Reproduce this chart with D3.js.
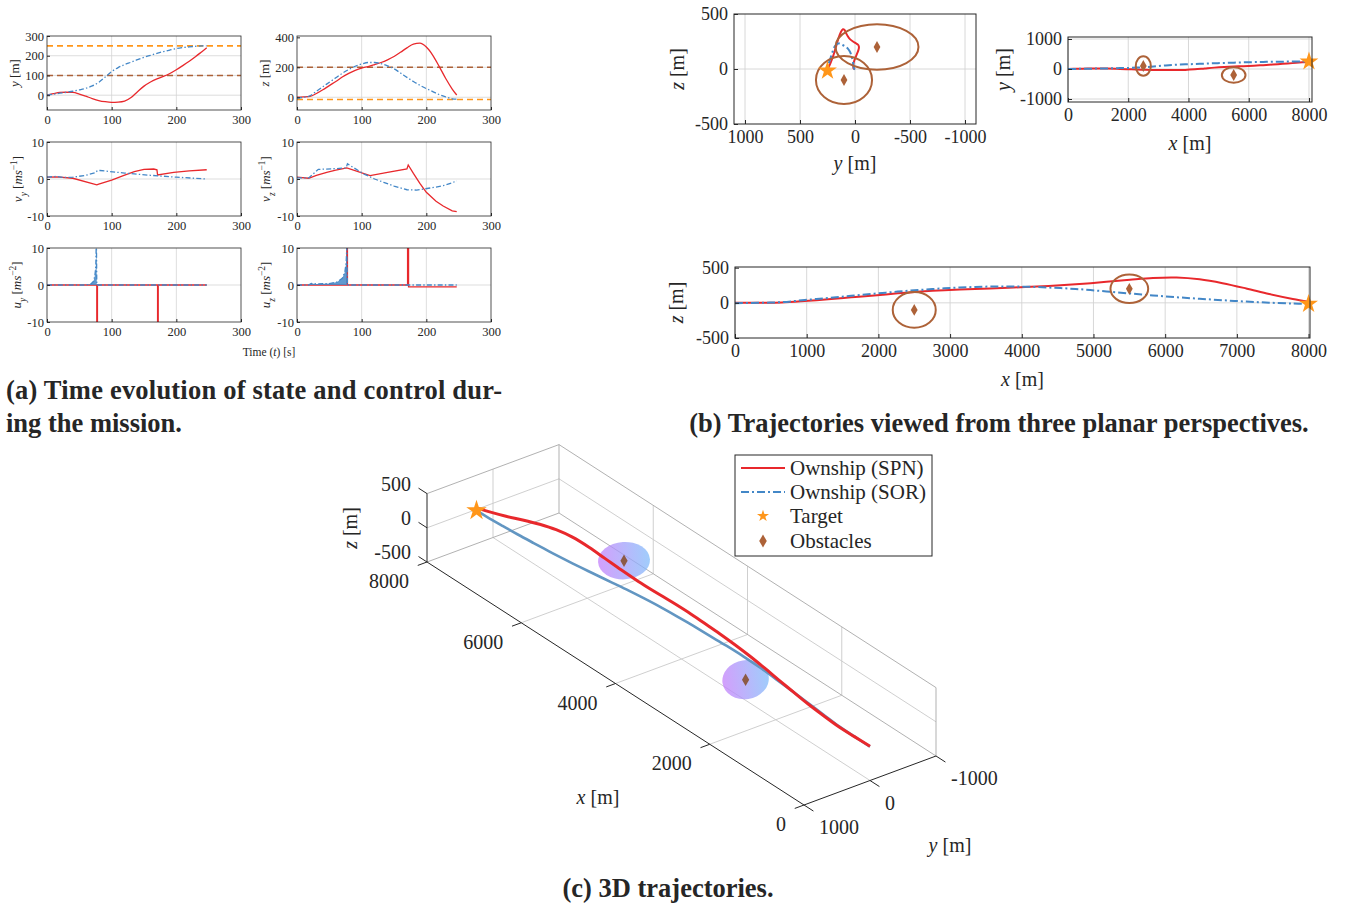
<!DOCTYPE html>
<html>
<head>
<meta charset="utf-8">
<script src="https://cdn.jsdelivr.net/npm/d3@7"></script>
<style>
  body { margin: 0; background: #fff; }
  text { font-family: "Liberation Serif", "Times New Roman", serif; fill: #262626; }
</style>
</head>
<body>
<svg id="fig" width="1354" height="905"></svg>
<script>
// ---------- data ----------
const time = [0, 10, 20, 30, 40, 50, 60, 70, 80, 90, 100, 110, 120, 130, 140, 150, 160, 170, 180, 190, 200, 210, 220, 230, 240, 247];
const posX = [0, 320, 650, 970, 1300, 1620, 1940, 2270, 2590, 2920, 3240, 3560, 3890, 4210, 4540, 4860, 5180, 5510, 5830, 6160, 6480, 6800, 7130, 7450, 7780, 8000];
const ySPN = [0, 8, 14, 15, 14, 6, -5, -17, -27, -33, -36, -35, -30, -12, 18, 46, 67, 83, 95, 110, 129, 150, 172, 196, 222, 240];
const zSPN = [0, 2, 6, 25, 50, 78, 105, 135, 160, 180, 195, 205, 218, 232, 250, 272, 300, 330, 355, 361, 335, 280, 205, 125, 55, 15];
const ySOR = [0, 5, 10, 15, 20, 27, 35, 47, 65, 92, 120, 140, 155, 167, 180, 192, 202, 212, 221, 229, 236, 241, 245, 248, 250, 250];
const zSOR = [-5, 0, 10, 40, 70, 100, 130, 160, 185, 207, 222, 232, 232, 225, 210, 190, 162, 133, 105, 80, 58, 38, 18, 3, -10, -13];

// velocities [t, v]
const vySPN = [[0, 0.5], [15, 0.6], [40, 0.2], [77, -1.6], [80, -1.4], [100, -0.3], [118, 0.9], [135, 2.0], [150, 2.6], [165, 2.7], [170, 2.5], [171, 1.1], [196, 1.8], [220, 2.2], [247, 2.5]];
const vySOR = [[0, 0.5], [15, 0.7], [25, 0.4], [40, 0.5], [60, 1.0], [75, 1.7], [78, 2.3], [82, 2.3], [120, 1.6], [160, 1.0], [200, 0.5], [247, 0.0]];
const vzSPN = [[0, 0.5], [18, 0.2], [30, 1.0], [46, 1.8], [60, 2.4], [77, 3.0], [113, 0.9], [140, 1.8], [170, 2.7], [172, 3.8], [180, 1.5], [190, -1.2], [200, -3.6], [215, -6.0], [226, -7.3], [240, -8.6], [247, -8.8]];
const vzSOR = [[0, 0.3], [18, 0.3], [33, 2.6], [60, 2.8], [76, 3.0], [78, 4.1], [90, 2.8], [103, 1.4], [120, 0], [134, -0.9], [150, -1.9], [170, -2.9], [185, -3.0], [196, -2.7], [215, -2.2], [226, -1.8], [240, -1.0], [247, -0.5]];

// controls [t, u]
const uySPN = [[0, 0], [77, 0], [77, -10], [78, -10], [78, 0], [171, 0], [171, -10], [172, -10], [172, 0], [247, 0]];
const uySOR = [[0, 0], [60, 0], [68, 0.3], [72, 1], [74, 2.5], [75.5, 5], [76, 10], [76.5, 10], [77, 0], [247, 0]];
const uzSPN = [[0, 0], [77, 0], [77, 10], [78, 10], [78, 0], [171, 0], [171, 10], [172.5, 10], [172.5, -0.5], [247, -0.5]];
const uzSOR = [[0, 0], [18, 0], [22, 0.4], [30, 0.3], [50, 0.4], [62, 0.8], [70, 1.8], [74, 3.5], [76, 6], [77, 10], [78, 0], [247, 0]];

const target = {x: 8000, y: 250, z: -15};
const obstacles = [{x: 2500, y: 100, z: -100}, {x: 5500, y: -200, z: 200}];
// apparent obstacle radii in each view
const radiiYZ = [[255, 218], [377, 206]];
const radiiXY = [[250, 322], [393, 261]];
const radiiXZ = [[300, 254], [263, 202]];
const radii3D = [[280, 290, 235], [320, 320, 205]];

const timeTicks = [0, 100, 200, 300];
const legendNames = ["Ownship (SPN)", "Ownship (SOR)", "Target", "Obstacles"];

// ---------- style ----------
const RED = "#e8282c", BLUE = "#4387c7", BLUE3D = "#6296c2", ORANGE = "#ff961a", BROWN = "#ad6238";
const GRID = "#d4d4d4", INK = "#262626";
const DASHDOT_S = "5,2.2,1.4,2.2", DASHDOT_L = "8,3,2,3";

const svg = d3.select("#fig");
const spn = time.map((t, i) => ({t, x: posX[i], y: ySPN[i], z: zSPN[i]}));
const sor = time.map((t, i) => ({t, x: posX[i], y: ySOR[i], z: zSOR[i]}));

let clipId = 0;
function addClip(box) {
  const id = "clip" + (clipId++);
  svg.append("clipPath").attr("id", id).append("rect")
    .attr("x", box.x).attr("y", box.y).attr("width", box.w).attr("height", box.h);
  return `url(#${id})`;
}

function styleAxis(a, size) {
  a.select(".domain").remove();
  a.attr("font-family", null).attr("font-size", null);
  a.selectAll("text").attr("font-size", size).attr("fill", INK)
    .style("font-family", "'Liberation Serif', serif");
  a.selectAll("line").attr("stroke", INK);
}

// label made of parts {t, i: italic, sub, sup}
function richText(sel, parts, size) {
  parts.forEach(p => {
    const ts = sel.append("tspan").text(p.t);
    if (p.i) ts.attr("font-style", "italic");
    if (p.sub) ts.attr("baseline-shift", "sub").attr("font-size", size * 0.72);
    if (p.sup) ts.attr("baseline-shift", "super").attr("font-size", size * 0.72);
  });
  return sel;
}

function yLabel(cx, cy, parts, size) {
  const t = svg.append("text")
    .attr("transform", `translate(${cx},${cy}) rotate(-90)`)
    .attr("text-anchor", "middle").attr("dy", "0.35em")
    .attr("font-size", size);
  richText(t, parts, size);
}

// ---------- panel (a): time histories ----------
function timePlot(box, yDomain, yTicks, yGrid, series, refs, label, labelX) {
  const g = svg.append("g");
  const x = d3.scaleLinear().domain([0, 300]).range([box.x, box.x + box.w]);
  const y = d3.scaleLinear().domain(yDomain).range([box.y + box.h, box.y]);
  const clip = addClip(box);

  g.selectAll(".gx").data([100, 200]).join("line")
    .attr("x1", d => x(d)).attr("x2", d => x(d)).attr("y1", box.y).attr("y2", box.y + box.h)
    .attr("stroke", GRID).attr("stroke-width", 0.8);
  g.selectAll(".gy").data(yGrid).join("line")
    .attr("x1", box.x).attr("x2", box.x + box.w).attr("y1", d => y(d)).attr("y2", d => y(d))
    .attr("stroke", GRID).attr("stroke-width", 0.8);

  g.selectAll(".ref").data(refs).join("line")
    .attr("x1", box.x).attr("x2", box.x + box.w)
    .attr("y1", d => y(d.v)).attr("y2", d => y(d.v))
    .attr("stroke", d => d.c).attr("stroke-width", 1.6).attr("stroke-dasharray", "6,4");

  const pl = g.append("g").attr("clip-path", clip);
  series.forEach(s => {
    if (s.fill) {
      pl.append("path").datum(s.data)
        .attr("d", d3.area().x(d => x(d[0])).y0(y(0)).y1(d => y(d[1])))
        .attr("fill", s.c).attr("opacity", 0.85);
    }
    pl.append("path").datum(s.data)
      .attr("d", d3.line().x(d => x(d[0])).y(d => y(d[1])).curve(s.curve || d3.curveLinear))
      .attr("fill", "none").attr("stroke", s.c).attr("stroke-width", 1.3)
      .attr("stroke-dasharray", s.dash || null);
  });

  g.append("rect").attr("x", box.x).attr("y", box.y).attr("width", box.w).attr("height", box.h)
    .attr("fill", "none").attr("stroke", INK).attr("stroke-width", 0.8);

  g.append("g").attr("transform", `translate(0,${box.y + box.h})`)
    .call(d3.axisBottom(x).tickValues(timeTicks).tickSize(-3).tickPadding(5).tickFormat(d => String(d)))
    .call(a => styleAxis(a, 12.5));
  g.append("g").attr("transform", `translate(${box.x},0)`)
    .call(d3.axisLeft(y).tickValues(yTicks).tickSize(-3).tickPadding(3).tickFormat(d => String(d)))
    .call(a => styleAxis(a, 12.5));

  yLabel(labelX, box.y + box.h / 2, label, 13);
}

const colX = [47, 297], rowY = [36, 142, 248];
const BW = 194, BH = 74;

timePlot({x: colX[0], y: rowY[0], w: BW, h: BH}, [-75, 300], [0, 100, 200, 300], [0, 100, 200],
  [{data: spn.map(d => [d.t, d.y]), c: RED, curve: d3.curveMonotoneX},
   {data: sor.map(d => [d.t, d.y]), c: BLUE, dash: DASHDOT_S, curve: d3.curveMonotoneX}],
  [{v: target.y, c: ORANGE}, {v: obstacles[0].y, c: BROWN}],
  [{t: "y", i: 1}, {t: " [m]"}], 14);
timePlot({x: colX[1], y: rowY[0], w: BW, h: BH}, [-85, 409], [0, 200, 400], [0, 200],
  [{data: spn.map(d => [d.t, d.z]), c: RED, curve: d3.curveMonotoneX},
   {data: sor.map(d => [d.t, d.z]), c: BLUE, dash: DASHDOT_S, curve: d3.curveMonotoneX}],
  [{v: target.z, c: ORANGE}, {v: obstacles[1].z, c: BROWN}],
  [{t: "z", i: 1}, {t: " [m]"}], 264);
timePlot({x: colX[0], y: rowY[1], w: BW, h: BH}, [-10, 10], [-10, 0, 10], [0],
  [{data: vySPN, c: RED}, {data: vySOR, c: BLUE, dash: DASHDOT_S}], [],
  [{t: "v", i: 1}, {t: "y", i: 1, sub: 1}, {t: " ["}, {t: "ms", i: 1}, {t: "−1", sup: 1}, {t: "]"}], 17);
timePlot({x: colX[1], y: rowY[1], w: BW, h: BH}, [-10, 10], [-10, 0, 10], [0],
  [{data: vzSPN, c: RED}, {data: vzSOR, c: BLUE, dash: DASHDOT_S}], [],
  [{t: "v", i: 1}, {t: "z", i: 1, sub: 1}, {t: " ["}, {t: "ms", i: 1}, {t: "−1", sup: 1}, {t: "]"}], 265);
timePlot({x: colX[0], y: rowY[2], w: BW, h: BH}, [-10, 10], [-10, 0, 10], [0],
  [{data: uySPN, c: RED}, {data: uySOR, c: BLUE, dash: DASHDOT_S, fill: true}], [],
  [{t: "u", i: 1}, {t: "y", i: 1, sub: 1}, {t: " ["}, {t: "ms", i: 1}, {t: "−2", sup: 1}, {t: "]"}], 16);
timePlot({x: colX[1], y: rowY[2], w: BW, h: BH}, [-10, 10], [-10, 0, 10], [0],
  [{data: uzSPN, c: RED}, {data: uzSOR, c: BLUE, dash: DASHDOT_S, fill: true}], [],
  [{t: "u", i: 1}, {t: "z", i: 1, sub: 1}, {t: " ["}, {t: "ms", i: 1}, {t: "−2", sup: 1}, {t: "]"}], 265);

richText(svg.append("text").attr("x", 269).attr("y", 356).attr("text-anchor", "middle").attr("font-size", 11.5),
  [{t: "Time ("}, {t: "t", i: 1}, {t: ") [s]"}], 11.5);

// ---------- panel (b): planar views ----------
function star(size) { return d3.symbol().type(d3.symbolStar).size(size)(); }
function diamond(size) { return d3.symbol().type(d3.symbolDiamond).size(size)(); }

function planar(o) {
  const {box} = o;
  const g = svg.append("g");
  const x = d3.scaleLinear().domain(o.xDom).range([box.x, box.x + box.w]);
  const y = d3.scaleLinear().domain(o.yDom).range([box.y + box.h, box.y]);
  const clip = addClip(box);

  g.selectAll(".gx").data(o.xTicks).join("line")
    .attr("x1", d => x(d)).attr("x2", d => x(d)).attr("y1", box.y).attr("y2", box.y + box.h)
    .attr("stroke", GRID).attr("stroke-width", 0.9);
  g.selectAll(".gy").data(o.yGrid).join("line")
    .attr("x1", box.x).attr("x2", box.x + box.w).attr("y1", d => y(d)).attr("y2", d => y(d))
    .attr("stroke", GRID).attr("stroke-width", 0.9);

  const pl = g.append("g").attr("clip-path", clip);
  const line = d3.line().x(d => x(d[o.xk])).y(d => y(d[o.yk])).curve(d3.curveCatmullRom);
  pl.append("path").datum(spn).attr("d", line).attr("fill", "none").attr("stroke", RED).attr("stroke-width", 2);
  pl.append("path").datum(sor).attr("d", line).attr("fill", "none").attr("stroke", BLUE)
    .attr("stroke-width", 2).attr("stroke-dasharray", DASHDOT_L);

  pl.selectAll(".obs").data(obstacles).join("ellipse")
    .attr("cx", d => x(d[o.xk])).attr("cy", d => y(d[o.yk]))
    .attr("rx", (d, i) => Math.abs(x(d[o.xk] + o.radii[i][0]) - x(d[o.xk])))
    .attr("ry", (d, i) => Math.abs(y(d[o.yk] + o.radii[i][1]) - y(d[o.yk])))
    .attr("fill", "none").attr("stroke", BROWN).attr("stroke-width", 2);
  pl.selectAll(".dia").data(obstacles).join("path")
    .attr("d", diamond(40)).attr("transform", d => `translate(${x(d[o.xk])},${y(d[o.yk])})`)
    .attr("fill", BROWN);
  g.append("path").attr("d", star(110))
    .attr("transform", `translate(${x(target[o.xk])},${y(target[o.yk])})`).attr("fill", ORANGE);

  g.append("rect").attr("x", box.x).attr("y", box.y).attr("width", box.w).attr("height", box.h)
    .attr("fill", "none").attr("stroke", INK).attr("stroke-width", 1);

  g.append("g").attr("transform", `translate(0,${box.y + box.h})`)
    .call(d3.axisBottom(x).tickValues(o.xTicks).tickSize(-4).tickPadding(6).tickFormat(d => String(d)))
    .call(a => styleAxis(a, 18));
  g.append("g").attr("transform", `translate(${box.x},0)`)
    .call(d3.axisLeft(y).tickValues(o.yTicks).tickSize(-4).tickPadding(6).tickFormat(d => String(d)))
    .call(a => styleAxis(a, 18));

  richText(svg.append("text").attr("x", box.x + box.w / 2).attr("y", o.xLabY).attr("text-anchor", "middle").attr("font-size", 20),
    [{t: o.xk, i: 1}, {t: " [m]"}], 20);
  yLabel(o.yLabX, box.y + box.h / 2, [{t: o.yk, i: 1}, {t: " [m]"}], 20);
}

planar({box: {x: 734, y: 14, w: 242, h: 110}, xDom: [1100, -1100], yDom: [-500, 500],
  xTicks: [1000, 500, 0, -500, -1000], yTicks: [-500, 0, 500], yGrid: [0],
  xk: "y", yk: "z", radii: radiiYZ, xLabY: 170, yLabX: 677});
planar({box: {x: 1068, y: 37, w: 244, h: 65}, xDom: [0, 8100], yDom: [-1100, 1067],
  xTicks: [0, 2000, 4000, 6000, 8000], yTicks: [-1000, 0, 1000], yGrid: [-1000, 0, 1000],
  xk: "x", yk: "y", radii: radiiXY, xLabY: 150, yLabX: 1003});
planar({box: {x: 735, y: 267, w: 575, h: 71}, xDom: [0, 8020], yDom: [-500, 510],
  xTicks: [0, 1000, 2000, 3000, 4000, 5000, 6000, 7000, 8000], yTicks: [-500, 0, 500], yGrid: [0],
  xk: "x", yk: "z", radii: radiiXZ, xLabY: 386, yLabX: 676});

// ---------- panel (c): 3D view ----------
const O3 = [804, 805];
const px = d3.scaleLinear().domain([0, 8000]).range([[0, 0], [-377, -243]]);
const py = d3.scaleLinear().domain([1000, -1000]).range([[0, 0], [132, -49]]);
const pz = d3.scaleLinear().domain([-500, 500]).range([[0, 0], [0, -68.4]]);
function proj(p) {
  const a = px(p.x).slice(), b = py(p.y).slice(), c = pz(p.z).slice();
  return [O3[0] + a[0] + b[0] + c[0], O3[1] + a[1] + b[1] + c[1]];
}
const g3 = svg.append("g");
function seg(p, q, color, w) {
  const A = proj(p), B = proj(q);
  g3.append("line").attr("x1", A[0]).attr("y1", A[1]).attr("x2", B[0]).attr("y2", B[1])
    .attr("stroke", color).attr("stroke-width", w);
}
const xT3 = [0, 2000, 4000, 6000, 8000], yT3 = [1000, 0, -1000], zT3 = [-500, 0, 500];
const G3 = "#c9c9c9";
// floor grid (z = -500)
[2000, 4000, 6000].forEach(v => seg({x: v, y: 1000, z: -500}, {x: v, y: -1000, z: -500}, G3, 0.9));
seg({x: 0, y: 0, z: -500}, {x: 8000, y: 0, z: -500}, G3, 0.9);
// back wall (y = -1000)
[2000, 4000, 6000].forEach(v => seg({x: v, y: -1000, z: -500}, {x: v, y: -1000, z: 500}, G3, 0.9));
seg({x: 0, y: -1000, z: 0}, {x: 8000, y: -1000, z: 0}, G3, 0.9);
// side wall (x = 8000)
seg({x: 8000, y: 0, z: -500}, {x: 8000, y: 0, z: 500}, G3, 0.9);
seg({x: 8000, y: 1000, z: 0}, {x: 8000, y: -1000, z: 0}, G3, 0.9);
// box back edges
const E3 = "#a8a8a8";
seg({x: 8000, y: 1000, z: -500}, {x: 8000, y: -1000, z: -500}, E3, 0.9);
seg({x: 0, y: -1000, z: -500}, {x: 8000, y: -1000, z: -500}, E3, 0.9);
seg({x: 8000, y: -1000, z: -500}, {x: 8000, y: -1000, z: 500}, E3, 0.9);
seg({x: 8000, y: 1000, z: 500}, {x: 8000, y: -1000, z: 500}, E3, 0.9);
seg({x: 0, y: -1000, z: 500}, {x: 8000, y: -1000, z: 500}, E3, 0.9);
seg({x: 0, y: -1000, z: -500}, {x: 0, y: -1000, z: 500}, E3, 0.9);
// axes
seg({x: 0, y: 1000, z: -500}, {x: 8000, y: 1000, z: -500}, INK, 1);
seg({x: 0, y: 1000, z: -500}, {x: 0, y: -1000, z: -500}, INK, 1);
seg({x: 8000, y: 1000, z: -500}, {x: 8000, y: 1000, z: 500}, INK, 1);
xT3.forEach(v => {
  seg({x: v, y: 1000, z: -500}, {x: v, y: 1140, z: -500}, INK, 1);
  const P = proj({x: v, y: 1000, z: -500});
  g3.append("text").attr("x", P[0] - 18).attr("y", P[1] + 19).attr("dy", "0.35em")
    .attr("text-anchor", "end").attr("font-size", 20).text(String(v));
});
yT3.forEach(v => {
  seg({x: 0, y: v, z: -500}, {x: -200, y: v, z: -500}, INK, 1);
  const P = proj({x: 0, y: v, z: -500});
  g3.append("text").attr("x", P[0] + 15).attr("y", P[1] + 22).attr("dy", "0.35em")
    .attr("text-anchor", "start").attr("font-size", 20).text(String(v));
});
zT3.forEach(v => {
  seg({x: 8000, y: 1000, z: v}, {x: 8180, y: 1000, z: v}, INK, 1);
  const P = proj({x: 8000, y: 1000, z: v});
  g3.append("text").attr("x", P[0] - 16).attr("y", P[1] - 10).attr("dy", "0.35em")
    .attr("text-anchor", "end").attr("font-size", 20).text(String(v));
});
richText(svg.append("text").attr("x", 598).attr("y", 804).attr("text-anchor", "middle").attr("font-size", 20),
  [{t: "x", i: 1}, {t: " [m]"}], 20);
richText(svg.append("text").attr("x", 950).attr("y", 852).attr("text-anchor", "middle").attr("font-size", 20),
  [{t: "y", i: 1}, {t: " [m]"}], 20);
yLabel(350, 528, [{t: "z", i: 1}, {t: " [m]"}], 20);

// obstacle ellipsoids, projected
const defs = svg.append("defs");
const grad = defs.append("linearGradient").attr("id", "obsGrad");
grad.append("stop").attr("offset", "0%").attr("stop-color", "#c47ffb");
grad.append("stop").attr("offset", "100%").attr("stop-color", "#80bcfa");
const ex = [px(1)[0] - px(0)[0], px(1)[1] - px(0)[1]];
const ey = [py(1)[0] - py(0)[0], py(1)[1] - py(0)[1]];
const ez = [pz(1)[0] - pz(0)[0], pz(1)[1] - pz(0)[1]];
function ellipseOf(r) {
  let a = 0, b = 0, c = 0;
  [ex, ey, ez].forEach((v, k) => { const s = r[k] * r[k]; a += s * v[0] * v[0]; b += s * v[0] * v[1]; c += s * v[1] * v[1]; });
  const m = (a + c) / 2, dd = Math.sqrt(((a - c) / 2) ** 2 + b * b);
  const l1 = m + dd, l2 = m - dd;
  let ang = Math.atan2(l1 - a, b) * 180 / Math.PI;
  if (ang > 90) ang -= 180;
  if (ang < -90) ang += 180;
  return {rx: Math.sqrt(l1), ry: Math.sqrt(l2), ang};
}
obstacles.forEach((o, i) => {
  const P = proj(o), e = ellipseOf(radii3D[i]);
  g3.append("ellipse").attr("cx", P[0]).attr("cy", P[1]).attr("rx", e.rx).attr("ry", e.ry)
    .attr("transform", `rotate(${e.ang},${P[0]},${P[1]})`)
    .attr("fill", "url(#obsGrad)").attr("fill-opacity", 0.75);
});
const line3 = d3.line().x(d => proj(d)[0]).y(d => proj(d)[1]).curve(d3.curveCatmullRom);
g3.append("path").datum(sor).attr("d", line3).attr("fill", "none").attr("stroke", BLUE3D).attr("stroke-width", 2.6);
g3.append("path").datum(spn).attr("d", line3).attr("fill", "none").attr("stroke", RED).attr("stroke-width", 3);
obstacles.forEach(o => {
  const P = proj(o);
  g3.append("path").attr("d", diamond(45)).attr("transform", `translate(${P[0]},${P[1]})`).attr("fill", "#8c5a45");
});
const T = proj(target);
g3.append("path").attr("d", star(130)).attr("transform", `translate(${T[0]},${T[1]})`).attr("fill", ORANGE);

// legend
const lg = svg.append("g");
lg.append("rect").attr("x", 735).attr("y", 455).attr("width", 197).attr("height", 101)
  .attr("fill", "#fff").attr("stroke", INK).attr("stroke-width", 1);
const rowsY = [468, 492, 516, 541];
lg.append("line").attr("x1", 741).attr("x2", 785).attr("y1", rowsY[0]).attr("y2", rowsY[0]).attr("stroke", RED).attr("stroke-width", 2);
lg.append("line").attr("x1", 741).attr("x2", 785).attr("y1", rowsY[1]).attr("y2", rowsY[1]).attr("stroke", BLUE)
  .attr("stroke-width", 2).attr("stroke-dasharray", DASHDOT_L);
lg.append("path").attr("d", star(45)).attr("transform", `translate(763,${rowsY[2]})`).attr("fill", ORANGE);
lg.append("path").attr("d", diamond(50)).attr("transform", `translate(763,${rowsY[3]})`).attr("fill", BROWN);
lg.selectAll(".lt").data(legendNames).join("text")
  .attr("x", 790).attr("y", (d, i) => rowsY[i]).attr("dy", "0.35em").attr("font-size", 21).text(d => d);

// ---------- captions ----------
const cap = (x, y, anchor, s) => svg.append("text").attr("x", x).attr("y", y).attr("text-anchor", anchor)
  .attr("font-size", 26.5).attr("font-weight", "bold").attr("fill", "#111").text(s);
cap(6, 399, "start", "(a) Time evolution of state and control dur-")
  .attr("textLength", 496).attr("lengthAdjust", "spacing");
cap(6, 432, "start", "ing the mission.");
cap(999, 432, "middle", "(b) Trajectories viewed from three planar perspectives.");
cap(668, 897, "middle", "(c) 3D trajectories.");
</script>
</body>
</html>
